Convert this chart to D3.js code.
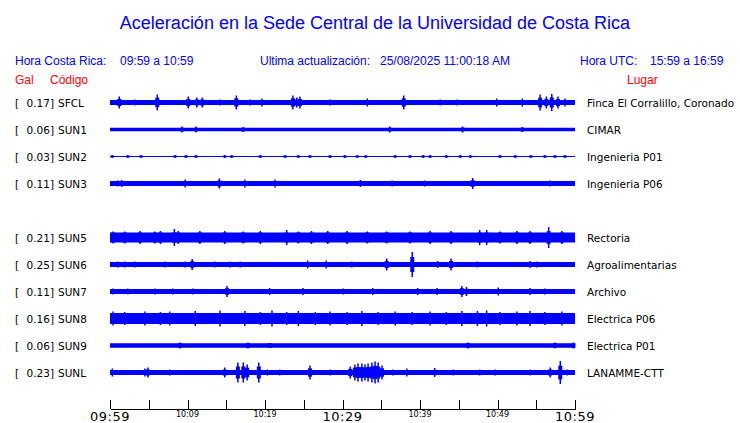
<!DOCTYPE html>
<html>
<meta charset="utf-8">
<head>
<title>Aceleración Sede Central UCR</title>
<script src="https://cdn.jsdelivr.net/npm/d3@7/dist/d3.min.js"></script>
<style>
body { margin: 0; background: #fff; }
svg { display: block; }
.hdr { font: 12px "Liberation Sans", Arial, sans-serif; fill: #0000ff; }
.red { font: 12px "Liberation Sans", Arial, sans-serif; fill: #ff0000; }
.est { font: 10.5px "DejaVu Sans", sans-serif; fill: #000; }
.axis path, .axis line { stroke: #000; shape-rendering: crispEdges; }
</style>
</head>
<body>
<div id="grafico"></div>
<script>
// estaciones (orden de arriba hacia abajo), SUN4 no reporta
var codigos = ["SFCL", "SUN1", "SUN2", "SUN3", "SUN4", "SUN5", "SUN6", "SUN7", "SUN8", "SUN9", "SUNL"];
var lugares = ["Finca El Corralillo, Coronado", "CIMAR", "Ingenieria P01", "Ingenieria P06", "",
  "Rectoria", "Agroalimentarias", "Archivo", "Electrica P06", "Electrica P01", "LANAMME-CTT"];
var maximos = [0.17, 0.06, 0.03, 0.11, null, 0.21, 0.25, 0.11, 0.16, 0.06, 0.23];
// nivel de ruido de fondo (Gal)
var ruido = [0.05, 0.035, 0.01, 0.05, null, 0.1, 0.05, 0.05, 0.11, 0.045, 0.05];
// eventos: [minuto desde 09:59, amplitud Gal]
var eventos = [
  [[1.2,0.12],[3.2,0.06],[6.1,0.16],[10.1,0.12],[11.2,0.1],[11.9,0.1],[14.2,0.06],[16.3,0.14],[18.1,0.06],[19.6,0.08],
   [23.6,0.14],[24.1,0.1],[24.5,0.12],[28.4,0.06],[33.2,0.08],[37.9,0.14],[42.6,0.06],[44.8,0.06],[49.9,0.08],[53.2,0.08],
   [55.5,0.16],[56.3,0.12],[57.0,0.17],[57.8,0.12],[58.7,0.08]],
  [[9.3,0.06],[11.1,0.06],[17.2,0.05],[36.1,0.06],[45.5,0.06],[53.2,0.05]],
  [[0.3,0.03],[2.3,0.03],[4.0,0.03],[8.4,0.03],[9.8,0.03],[11.1,0.03],[14.8,0.03],[15.7,0.03],[19.4,0.03],[22.6,0.03],
   [24.3,0.03],[25.8,0.03],[28.4,0.03],[30.3,0.03],[31.9,0.03],[33.0,0.03],[36.8,0.03],[38.7,0.03],[40.4,0.03],[41.3,0.03],
   [43.4,0.03],[45.2,0.03],[46.5,0.03],[50.3,0.03],[52.3,0.03],[54.3,0.03],[56.1,0.03],[57.4,0.03],[58.7,0.03]],
  [[1.0,0.06],[1.5,0.07],[9.7,0.08],[14.1,0.1],[17.4,0.08],[21.3,0.08],[32.3,0.07],[36.4,0.06],[40.6,0.06],[46.8,0.11],[56.8,0.06]],
  [],
  [[0.4,0.12],[1.9,0.12],[3.9,0.13],[5.8,0.12],[6.5,0.13],[8.3,0.17],[8.8,0.13],[11.6,0.13],[14.8,0.13],[17.2,0.12],[19.4,0.13],
   [22.8,0.15],[24.3,0.12],[26.0,0.13],[28.1,0.13],[30.6,0.13],[33.2,0.12],[35.7,0.12],[38.7,0.12],[41.3,0.13],[44.0,0.13],
   [47.7,0.15],[48.6,0.15],[50.3,0.12],[52.5,0.13],[54.2,0.13],[56.6,0.21],[58.3,0.13]],
  [[1.0,0.06],[1.9,0.06],[3.2,0.06],[7.1,0.06],[9.7,0.06],[10.6,0.11],[13.5,0.06],[15.5,0.06],[16.8,0.06],[25.5,0.08],
   [27.9,0.08],[31.2,0.06],[35.7,0.12],[39.0,0.25],[42.3,0.07],[44.0,0.12],[47.4,0.06],[54.2,0.07],[55.1,0.06]],
  [[0.4,0.06],[2.3,0.06],[5.8,0.06],[8.1,0.06],[10.7,0.06],[15.1,0.11],[20.6,0.07],[24.9,0.07],[30.1,0.06],[33.9,0.07],
   [39.7,0.07],[42.2,0.07],[45.4,0.11],[46.0,0.09],[50.1,0.08],[54.2,0.07],[56.1,0.06]],
  [[0.4,0.14],[1.9,0.13],[4.5,0.14],[6.5,0.13],[7.7,0.14],[11.0,0.15],[14.2,0.16],[17.4,0.15],[19.4,0.13],[20.9,0.16],
   [22.8,0.13],[24.3,0.15],[26.5,0.13],[28.4,0.14],[30.6,0.13],[32.5,0.15],[34.6,0.13],[36.8,0.14],[39.0,0.13],[41.3,0.14],
   [43.4,0.13],[45.4,0.15],[47.4,0.15],[48.6,0.16],[50.3,0.13],[52.5,0.14],[54.2,0.15],[56.1,0.13],[58.3,0.14]],
  [[9.0,0.06],[17.8,0.06],[20.6,0.05],[46.2,0.06],[57.4,0.06],[59.8,0.06]],
  [[0.3,0.08],[4.5,0.08],[4.9,0.1],[7.7,0.06],[14.8,0.1],[16.5,0.2],[17.2,0.2],[17.7,0.16],[19.2,0.2],[20.3,0.06],[21.9,0.06],
   [25.8,0.14],[28.4,0.06],[31.0,0.12],[31.6,0.16],[32.0,0.18],[32.5,0.18],[32.9,0.16],[33.3,0.18],[33.8,0.2],[34.2,0.22],
   [34.6,0.2],[35.1,0.14],[36.5,0.06],[38.3,0.08],[41.9,0.09],[44.3,0.06],[47.7,0.06],[49.7,0.06],[54.2,0.06],[56.8,0.1],
   [58.1,0.23],[59.0,0.06]]
];
var horas = ["09:59", "10:04", "10:09", "10:14", "10:19", "10:24", "10:29", "10:34", "10:39", "10:44", "10:49", "10:54", "10:59"];
var horasGrandes = ["09:59", "10:29", "10:59"];
var horasChicas = ["10:09", "10:19", "10:39", "10:49"];

var width = 740, height = 423;
var svg = d3.select("#grafico").append("svg").attr("width", width).attr("height", height);

var x = d3.scaleLinear().domain([0, 60]).range([110, 575]);
var fila = d3.scaleBand().domain(codigos).range([89, 386]);
// amplitud Gal -> pixeles (mismo factor para todas)
var amp = d3.scaleLinear().domain([0, 0.25]).range([0, 12.5]);

// titulo y encabezados
svg.append("text").attr("x", 375).attr("y", 29).attr("text-anchor", "middle")
  .style("font", "18px 'Liberation Sans', Arial, sans-serif").style("fill", "#0000ff")
  .text("Aceleración en la Sede Central de la Universidad de Costa Rica");

var hdr = [["Hora Costa Rica:", 15], ["09:59 a 10:59", 120], ["Ultima actualización:", 260],
  ["25/08/2025 11:00:18 AM", 380], ["Hora UTC:", 580], ["15:59 a 16:59", 650]];
svg.selectAll(".hdr").data(hdr).enter().append("text").attr("class", "hdr")
  .attr("x", function(d) { return d[1]; }).attr("y", 65).text(function(d) { return d[0]; });
svg.selectAll(".red").data([["Gal", 15], ["Código", 50], ["Lugar", 627]]).enter().append("text").attr("class", "red")
  .attr("x", function(d) { return d[1]; }).attr("y", 84).text(function(d) { return d[0]; });

// trazas
codigos.forEach(function(c, i) {
  if (maximos[i] === null) return;
  var y0 = fila(c) + fila.bandwidth() / 2;
  var g = svg.append("g");
  g.append("text").attr("class", "est").attr("x", 15).attr("y", y0 + 4).text("[");
  g.append("text").attr("class", "est").attr("x", 54).attr("y", y0 + 4).attr("text-anchor", "end")
    .text(maximos[i].toFixed(2) + "]");
  g.append("text").attr("class", "est").attr("x", 58).attr("y", y0 + 4).text(c);
  g.append("text").attr("class", "est").attr("x", 587).attr("y", y0 + 4).text(lugares[i]);

  var h = Math.max(amp(ruido[i]), 0.5);
  g.append("rect").attr("x", x(0)).attr("width", x(60) - x(0))
    .attr("y", y0 - h).attr("height", 2 * h).attr("fill", "#0000ff");

  var ev = g.selectAll(".ev").data(eventos[i]).enter();
  ev.append("rect")
    .attr("x", function(d) { return x(d[0]) - 2; }).attr("width", 4)
    .attr("y", function(d) { return y0 - Math.max(h, amp(d[1]) * 0.6); })
    .attr("height", function(d) { return 2 * Math.max(h, amp(d[1]) * 0.6); })
    .attr("fill", "#0000ff");
  ev.append("rect")
    .attr("x", function(d) { return x(d[0]) - 0.75; }).attr("width", 1.5)
    .attr("y", function(d) { return y0 - amp(d[1]); })
    .attr("height", function(d) { return 2 * amp(d[1]); })
    .attr("fill", "#0000ff");
});

// eje de tiempo
var ticks = d3.range(0, 61, 5);
var axis = d3.axisTop(x).tickValues(ticks).tickSize(9).tickSizeOuter(0).tickFormat("");
svg.append("g").attr("class", "axis").attr("transform", "translate(0,409)").call(axis);

svg.selectAll(".hg").data(horasGrandes).enter().append("text")
  .attr("x", function(d) { return x(horas.indexOf(d) * 5); }).attr("y", 421).attr("text-anchor", "middle")
  .style("font", "13px 'DejaVu Sans', sans-serif").style("letter-spacing", "0.5px").text(function(d) { return d; });
svg.selectAll(".hc").data(horasChicas).enter().append("text")
  .attr("x", function(d) { return x(horas.indexOf(d) * 5); }).attr("y", 417).attr("text-anchor", "middle")
  .style("font", "8px 'DejaVu Sans', sans-serif").text(function(d) { return d; });
</script>
</body>
</html>
